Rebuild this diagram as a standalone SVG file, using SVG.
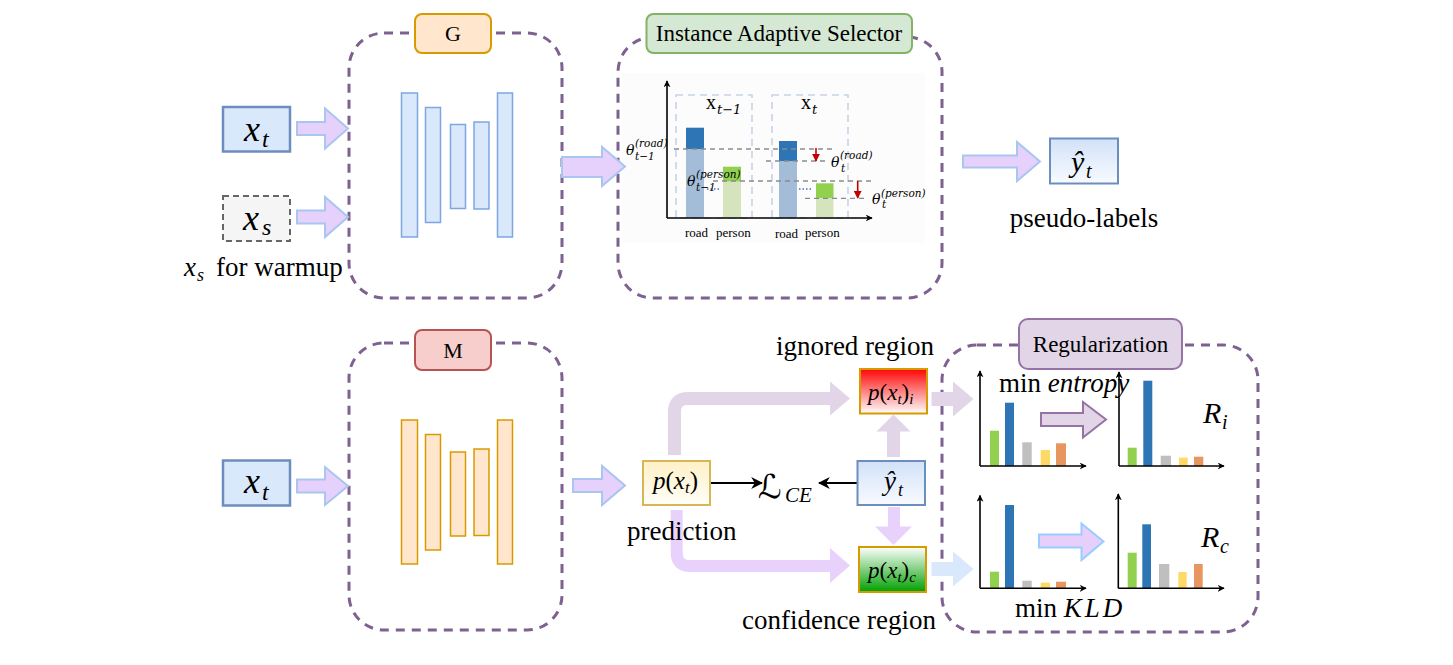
<svg xmlns="http://www.w3.org/2000/svg" width="1453" height="665" viewBox="0 0 1453 665">
<style>
.cont{fill:none;stroke:#7f6191;stroke-width:3;stroke-dasharray:9 7}
.blk{fill:#E6D1FC;stroke:#A8C6F0;stroke-width:2}
.ser{font-family:"Liberation Serif","Times New Roman",serif;fill:#000}
.it{font-style:italic}
.barb{fill:#dae8fc;stroke:#7ea6e0;stroke-width:1.5}
.baro{fill:#ffe6cc;stroke:#d79b00;stroke-width:1.5}
.axis{stroke:#000;stroke-width:1.6;fill:none}
.thr{stroke:#8a8a8a;stroke-width:1.3;stroke-dasharray:5 4;fill:none}
.dbox{fill:none;stroke:#c6d2e6;stroke-width:1.6;stroke-dasharray:7 5}
.th{font-family:"DejaVu Serif","Liberation Serif",serif;font-style:italic;fill:#000}
.lbl{font-family:"Liberation Serif","Times New Roman",serif;font-size:13px;fill:#000}
.dot{stroke:#4472c4;stroke-width:1.5;stroke-dasharray:1.5 2}
.cb{fill:#2e75b6}.cg{fill:#92d050}.cgr{fill:#bfbfbf}.cy{fill:#ffd966}.co{fill:#e8965f}
</style>
<defs>
<linearGradient id="gBlue" x1="0" y1="0" x2="0" y2="1"><stop offset="0" stop-color="#d2e1f8"/><stop offset="1" stop-color="#f8fbff"/></linearGradient>
<linearGradient id="gYel" x1="0" y1="0" x2="0" y2="1"><stop offset="0" stop-color="#fff0c6"/><stop offset="1" stop-color="#fffef8"/></linearGradient>
<linearGradient id="gRed" x1="0" y1="0" x2="0" y2="1"><stop offset="0" stop-color="#ff0505"/><stop offset="1" stop-color="#ffffff"/></linearGradient>
<linearGradient id="gGrn" x1="0" y1="0" x2="0" y2="1"><stop offset="0" stop-color="#ffffff"/><stop offset="1" stop-color="#00a000"/></linearGradient>
<marker id="ah" viewBox="0 0 10 10" refX="9" refY="5" markerWidth="12" markerHeight="12" markerUnits="userSpaceOnUse" orient="auto"><path d="M0,0 L10,5 L0,10 L3,5 Z" fill="#000"/></marker>
<marker id="ahs" viewBox="0 0 10 10" refX="9" refY="5" markerWidth="7" markerHeight="7" markerUnits="userSpaceOnUse" orient="auto"><path d="M0,0 L10,5 L0,10 L3,5 Z" fill="#000"/></marker>
<marker id="ahr" viewBox="0 0 10 10" refX="9" refY="5" markerWidth="8" markerHeight="8" markerUnits="userSpaceOnUse" orient="auto"><path d="M0,0 L10,5 L0,10 Z" fill="#c00000"/></marker>
</defs>
<rect width="1453" height="665" fill="#fff"/>

<!-- containers -->
<g id="G-container">
<rect class="cont" x="349" y="33" width="213" height="265" rx="35"/>
<rect x="415" y="14" width="76" height="39" rx="7" fill="#ffe6cc" stroke="#d79b00" stroke-width="2"/>
<text class="ser" x="453" y="41" font-size="22" text-anchor="middle">G</text>
<rect class="barb" x="401.5" y="93" width="16" height="144"/>
<rect class="barb" x="425.5" y="107.5" width="15" height="115"/>
<rect class="barb" x="450.5" y="124.5" width="15" height="84"/>
<rect class="barb" x="474" y="122" width="15" height="87"/>
<rect class="barb" x="497.5" y="93" width="15" height="144"/>
</g>

<g id="selector">
<rect class="cont" x="618" y="37" width="324" height="261" rx="35"/>
<rect x="646.5" y="14" width="265.5" height="39" rx="7" fill="#d5e8d4" stroke="#82b366" stroke-width="2"/>
<text class="ser" x="779" y="41" font-size="23" text-anchor="middle">Instance Adaptive Selector</text>
<rect x="622" y="73" width="303" height="170" fill="#fcfcfc"/>
<rect class="dbox" x="676" y="95" width="76" height="123"/>
<rect class="dbox" x="772" y="95" width="76" height="123"/>
<rect class="cb" x="686" y="127.7" width="18" height="21.3"/>
<rect x="686" y="149" width="18" height="69" fill="#a3bdd9"/>
<rect class="cg" x="723" y="166.7" width="18" height="15"/>
<rect x="723" y="181.7" width="18" height="36.3" fill="#d5e4bd"/>
<rect class="cb" x="779" y="141" width="18" height="20"/>
<rect x="779" y="161" width="18" height="57" fill="#a3bdd9"/>
<rect class="cg" x="816" y="183.3" width="17.5" height="15"/>
<rect x="816" y="198.3" width="17.5" height="19.7" fill="#d5e4bd"/>
<line class="axis" x1="667" y1="218" x2="667" y2="81" marker-end="url(#ahs)"/>
<line class="axis" x1="667" y1="218" x2="872" y2="218" marker-end="url(#ahs)"/>
<line class="thr" x1="674" y1="149" x2="833" y2="149"/>
<line class="thr" x1="713" y1="181" x2="872" y2="181"/>
<line class="thr" x1="766" y1="161" x2="828" y2="161"/>
<line class="thr" x1="805" y1="198.3" x2="868" y2="198.3"/>
<line x1="816" y1="148" x2="816" y2="161" stroke="#c00000" stroke-width="1.6" marker-end="url(#ahr)"/>
<line x1="857.7" y1="181" x2="857.7" y2="198" stroke="#c00000" stroke-width="1.6" marker-end="url(#ahr)"/>
<line class="dot" x1="707" y1="189" x2="719" y2="189"/>
<line class="dot" x1="799" y1="189" x2="811" y2="189"/>
<text class="ser" x="706" y="109" font-size="20">x</text><text class="th" x="717" y="114" font-size="13">t−1</text>
<text class="ser" x="801" y="109" font-size="20">x</text><text class="th" x="812" y="114" font-size="13">t</text>
<text class="th" x="626" y="155" font-size="14">θ</text><text class="th" x="635" y="147" font-size="10.5">(road)</text><text class="th" x="635" y="160" font-size="10.5">t−1</text>
<text class="th" x="687" y="186" font-size="14">θ</text><text class="th" x="696" y="178" font-size="10.5">(person)</text><text class="th" x="696" y="191" font-size="10.5">t−1</text>
<text class="th" x="831" y="167" font-size="14">θ</text><text class="th" x="840" y="159" font-size="10.5">(road)</text><text class="th" x="841" y="172" font-size="10.5">t</text>
<text class="th" x="872" y="204" font-size="14">θ</text><text class="th" x="881" y="197" font-size="10.5">(person)</text><text class="th" x="882" y="208" font-size="10.5">t</text>
<text class="lbl" x="685" y="237">road</text><text class="lbl" x="716" y="237">person</text>
<text class="lbl" x="775" y="238">road</text><text class="lbl" x="805" y="237">person</text>
</g>

<g id="M-container">
<rect class="cont" x="349" y="343" width="213" height="287" rx="35"/>
<rect x="415" y="330" width="76" height="40" rx="7" fill="#f8cecc" stroke="#b85450" stroke-width="2"/>
<text class="ser" x="453" y="358" font-size="22" text-anchor="middle">M</text>
<rect class="baro" x="401.5" y="420" width="16" height="144"/>
<rect class="baro" x="425.5" y="434.5" width="15" height="115.5"/>
<rect class="baro" x="450.5" y="452" width="15" height="84"/>
<rect class="baro" x="474" y="449" width="15" height="86.5"/>
<rect class="baro" x="497.5" y="420" width="15" height="144"/>
</g>

<g id="regularization">
<rect class="cont" x="942" y="345" width="316" height="287" rx="35"/>
<rect x="1019" y="319" width="163" height="50" rx="9" fill="#e1d5e7" stroke="#9673a6" stroke-width="2"/>
<text class="ser" x="1100.5" y="352" font-size="23" text-anchor="middle">Regularization</text>
</g>

<!-- connectors -->
<g id="connectors">
<polygon class="blk" points="297,122 325,122 325,108.5 348,128.5 325,148.5 325,135 297,135"/>
<polygon class="blk" points="297,210.5 325,210.5 325,197 348,217 325,237 325,223.5 297,223.5"/>
<polygon class="blk" points="562,157 602,157 602,147 625,166.5 602,186 602,177 562,177"/>
<polygon class="blk" points="963,155.5 1017,155.5 1017,142 1040,161.5 1017,181 1017,167.5 963,167.5"/>
<polygon class="blk" points="297,479.5 325,479.5 325,467 348,486 325,505 325,492.5 297,492.5"/>
<polygon class="blk" points="573,479 602,479 602,466 625,485.5 602,505 602,492 573,492"/>
<path d="M674.5,455 V412 Q674.5,398.5 688,398.5 H832" fill="none" stroke="#e1d5e7" stroke-width="13"/>
<polygon points="830,381.5 850,398.5 830,415.5" fill="#e1d5e7"/>
<path d="M676.7,510 V553 Q676.7,566 690,566 H832" fill="none" stroke="#e8d2fb" stroke-width="12"/>
<polygon points="830,548 850,565.5 830,583" fill="#e8d2fb"/>
<line x1="893.5" y1="457" x2="893.5" y2="430" stroke="#e1d5e7" stroke-width="13"/>
<polygon points="876.5,431.5 910.5,431.5 893.5,414.5" fill="#e1d5e7"/>
<line x1="894" y1="507" x2="894" y2="528" stroke="#e8d2fb" stroke-width="12"/>
<polygon points="875,526.5 912,526.5 893.5,545" fill="#e8d2fb"/>
<polygon points="931.5,392 953,392 953,381.5 973.5,399 953,416.5 953,406 931.5,406" fill="#e1d5e7"/>
<polygon points="931.5,562 953,562 953,551.5 973.5,569 953,586.5 953,576 931.5,576" fill="#dae8fc"/>
<line x1="710" y1="483" x2="762" y2="483" stroke="#000" stroke-width="2" marker-end="url(#ah)"/>
<line x1="857" y1="483" x2="819" y2="483" stroke="#000" stroke-width="2" marker-end="url(#ah)"/>
<polygon points="1041,413 1083,413 1083,402 1106,419.5 1083,437.5 1083,426 1041,426" fill="#e1d5e7" stroke="#9673a6" stroke-width="2"/>
<polygon points="1039,534.5 1081.5,534.5 1081.5,523.5 1103.5,541.5 1081.5,560 1081.5,547.5 1039,547.5" fill="#e6d0fb" stroke="#99ccff" stroke-width="2"/>
</g>

<!-- nodes -->
<g id="xt-top">
<rect x="223" y="107" width="67" height="44.5" fill="#dae8fc" stroke="#6c8ebf" stroke-width="2.5"/>
<text class="ser it" x="244" y="141" font-size="36">x</text><text class="ser it" x="262" y="147" font-size="24">t</text>
</g>
<g id="xs">
<rect x="223" y="196" width="67" height="45" fill="#f5f5f5" stroke="#666" stroke-width="2" stroke-dasharray="6 4"/>
<text class="ser it" x="243" y="230" font-size="36" fill="#333">x</text><text class="ser it" x="262" y="235" font-size="24" fill="#333">s</text>
</g>
<g id="xs-warmup">
<text class="ser it" x="184" y="276" font-size="27">x</text><text class="ser it" x="197" y="281" font-size="18">s</text>
<text class="ser" x="216" y="276" font-size="27">for warmup</text>
</g>
<g id="yhat-top">
<rect x="1050" y="138.5" width="68" height="45" fill="url(#gBlue)" stroke="#6c8ebf" stroke-width="2"/>
<text class="ser it" x="1071" y="172" font-size="30">ŷ</text><text class="ser it" x="1086" y="178" font-size="20">t</text>
</g>
<g id="pseudo-labels">
<text class="ser" x="1084" y="227" font-size="27" text-anchor="middle">pseudo-labels</text>
</g>
<g id="xt-bottom">
<rect x="223" y="460.5" width="67" height="45" fill="#dae8fc" stroke="#6c8ebf" stroke-width="2.5"/>
<text class="ser it" x="244" y="493" font-size="36">x</text><text class="ser it" x="262" y="500" font-size="24">t</text>
</g>
<g id="pxt">
<rect x="643" y="461" width="67" height="44" fill="url(#gYel)" stroke="#d6b656" stroke-width="2"/>
<text class="ser it" x="653" y="489" font-size="25">p<tspan font-style="normal">(</tspan>x<tspan font-size="17" dy="4">t</tspan><tspan font-style="normal" dy="-4">)</tspan></text>
</g>
<g id="prediction">
<text class="ser" x="627" y="540" font-size="27">prediction</text>
</g>
<g id="LCE">
<text x="758" y="498" font-size="33" font-family="DejaVu Serif,DejaVu Sans,serif" font-style="italic">ℒ</text>
<text class="ser it" x="785" y="502" font-size="21">CE</text>
</g>
<g id="yhat-bottom">
<rect x="857.5" y="461" width="67.5" height="44" fill="url(#gBlue)" stroke="#6c8ebf" stroke-width="2"/>
<text class="ser it" x="884" y="490" font-size="27">ŷ</text><text class="ser it" x="898" y="496" font-size="18">t</text>
</g>
<g id="ignored-region">
<text class="ser" x="855" y="355" font-size="27" text-anchor="middle">ignored region</text>
<rect x="860" y="369" width="67" height="44.5" fill="url(#gRed)" stroke="#d79b00" stroke-width="2"/>
<text class="ser it" x="868" y="400" font-size="23">p<tspan font-style="normal">(</tspan>x<tspan font-size="15" dy="4">t</tspan><tspan font-style="normal" dy="-4">)</tspan><tspan font-size="15" dy="4">i</tspan></text>
</g>
<g id="confidence-region">
<rect x="859" y="547" width="67" height="45" fill="url(#gGrn)" stroke="#d79b00" stroke-width="2"/>
<text class="ser it" x="868" y="578" font-size="23">p<tspan font-style="normal">(</tspan>x<tspan font-size="15" dy="4">t</tspan><tspan font-style="normal" dy="-4">)</tspan><tspan font-size="15" dy="4">c</tspan></text>
<text class="ser" x="839" y="629" font-size="27" text-anchor="middle">confidence region</text>
</g>

<g id="chart-i-before">
<rect class="cg" x="990" y="430.7" width="9" height="35.3"/>
<rect class="cb" x="1005" y="402.7" width="9" height="63.3"/>
<rect class="cgr" x="1022.3" y="442.3" width="9.4" height="23.7"/>
<rect class="cy" x="1040.7" y="450" width="9.3" height="16"/>
<rect class="co" x="1056" y="443.3" width="10" height="22.7"/>
<line class="axis" x1="980" y1="466" x2="980" y2="371" marker-end="url(#ahs)"/>
<line class="axis" x1="980" y1="466" x2="1086" y2="466" marker-end="url(#ahs)"/>
<text class="ser" x="999" y="392" font-size="27">min <tspan font-style="italic">entropy</tspan></text>
</g>
<g id="chart-i-after">
<rect class="cg" x="1127.7" y="447.7" width="9" height="18.3"/>
<rect class="cb" x="1143.3" y="380.7" width="9" height="85.3"/>
<rect class="cgr" x="1160.7" y="455.7" width="10.3" height="10.3"/>
<rect class="cy" x="1179" y="457.7" width="8.7" height="8.3"/>
<rect class="co" x="1194" y="456.7" width="9.3" height="9.3"/>
<line class="axis" x1="1119" y1="466" x2="1119" y2="372" marker-end="url(#ahs)"/>
<line class="axis" x1="1119" y1="466" x2="1224" y2="466" marker-end="url(#ahs)"/>
<text class="ser it" x="1203" y="423" font-size="30">R</text><text class="ser it" x="1222" y="429" font-size="20">i</text>
</g>
<g id="chart-c-before">
<rect class="cg" x="990" y="571.7" width="9" height="16.6"/>
<rect class="cb" x="1005" y="505" width="9" height="83.3"/>
<rect class="cgr" x="1022.3" y="580.7" width="9.4" height="7.6"/>
<rect class="cy" x="1040.7" y="582.7" width="9.3" height="5.6"/>
<rect class="co" x="1056" y="581.7" width="10" height="6.6"/>
<line class="axis" x1="980" y1="588.3" x2="980" y2="495.5" marker-end="url(#ahs)"/>
<line class="axis" x1="980" y1="588.3" x2="1086" y2="588.3" marker-end="url(#ahs)"/>
<text class="ser" x="1015" y="617" font-size="27">min <tspan font-style="italic" letter-spacing="3">KLD</tspan></text>
</g>
<g id="chart-c-after">
<rect class="cg" x="1127.7" y="552.7" width="9" height="35.6"/>
<rect class="cb" x="1142.3" y="524.3" width="8.7" height="64"/>
<rect class="cgr" x="1159" y="564" width="10.3" height="24.3"/>
<rect class="cy" x="1178.3" y="572" width="8.4" height="16.3"/>
<rect class="co" x="1194" y="564" width="8.7" height="24.3"/>
<line class="axis" x1="1118.3" y1="588.3" x2="1118.3" y2="494" marker-end="url(#ahs)"/>
<line class="axis" x1="1118.3" y1="588.3" x2="1224" y2="588.3" marker-end="url(#ahs)"/>
<text class="ser it" x="1201" y="547" font-size="30">R</text><text class="ser it" x="1220" y="553" font-size="20">c</text>
</g>
</svg>
